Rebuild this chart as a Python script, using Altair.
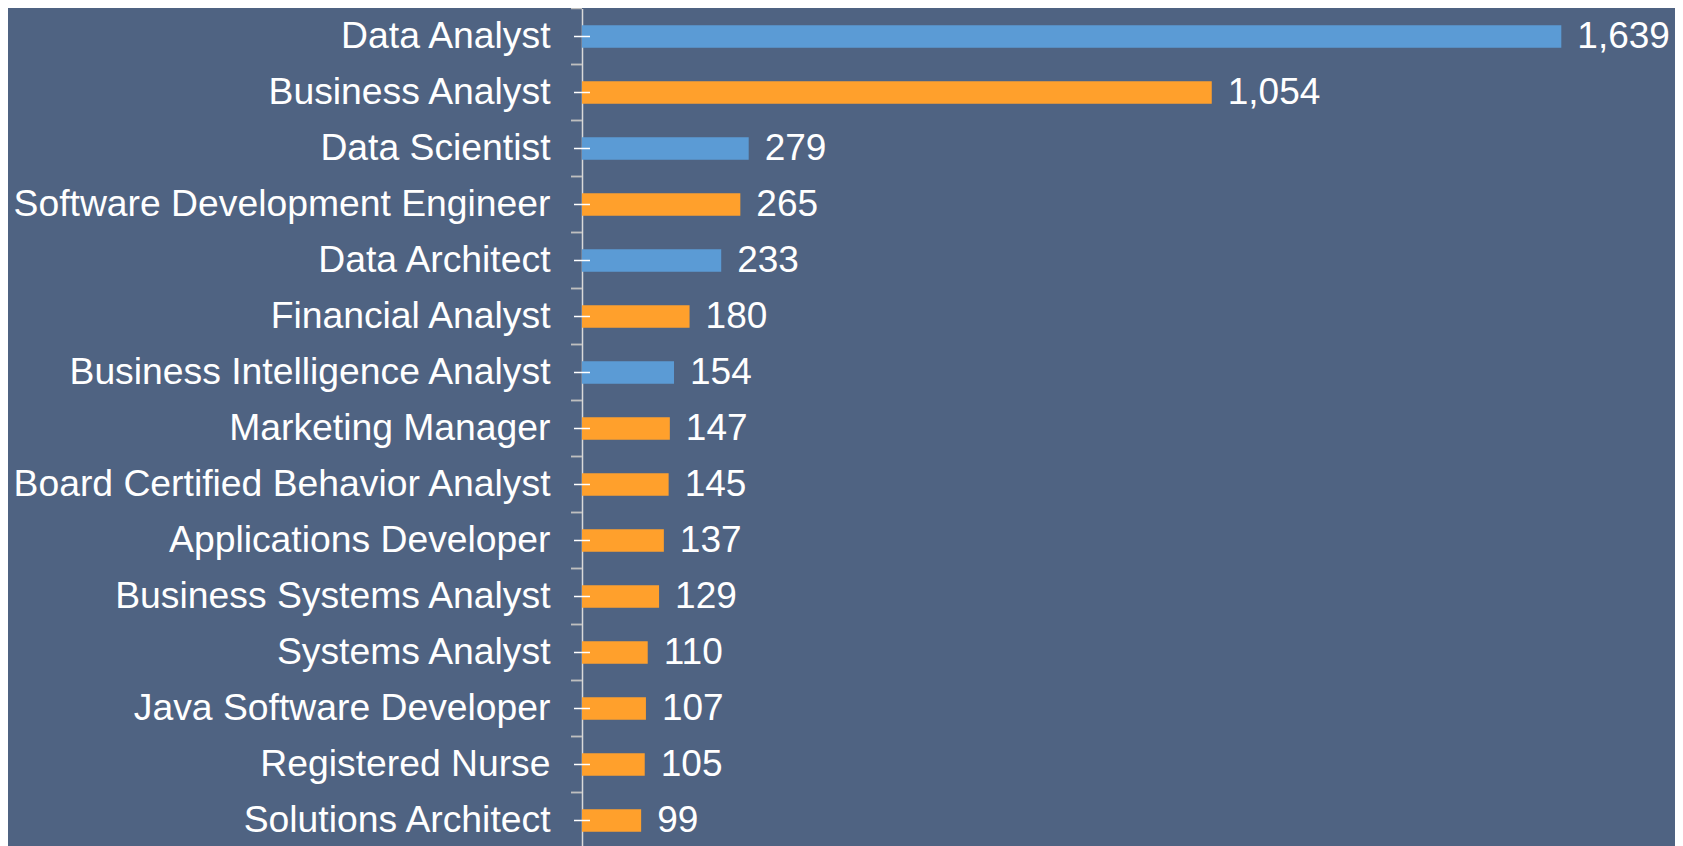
import altair as alt
import pandas as pd

roles = [
    "Data Analyst", "Business Analyst", "Data Scientist", "Software Development Engineer",
    "Data Architect", "Financial Analyst", "Business Intelligence Analyst", "Marketing Manager",
    "Board Certified Behavior Analyst", "Applications Developer", "Business Systems Analyst",
    "Systems Analyst", "Java Software Developer", "Registered Nurse", "Solutions Architect",
]
counts = [1639, 1054, 279, 265, 233, 180, 154, 147, 145, 137, 129, 110, 107, 105, 99]
groups = ["data", "other", "data", "other", "data", "other", "data", "other",
          "other", "other", "other", "other", "other", "other", "other"]

BG = "#4F6382"
FONT = "Liberation Sans"
STEP = 56  # pixel height of one category row (840 / 15)
df = pd.DataFrame({"role": roles, "count": counts, "group": groups})

y_scale = alt.Scale(paddingInner=0.6, paddingOuter=0.3, range=[0, 840])
y_enc = alt.Y("role:N", sort=roles, scale=y_scale,
              axis=alt.Axis(title=None, domainColor="#D9D9D9", domainWidth=1.5,
                            ticks=False, tickSize=0, labelPadding=32,
                            labelFont=FONT, labelFontSize=37.3,
                            labelColor="#FFFFFF", labelLimit=0, grid=False))
y_plain = alt.Y("role:N", sort=roles)

x_enc = alt.X("count:Q", scale=alt.Scale(domain=[0, 1800]), axis=None)

bars = alt.Chart(df).mark_bar().encode(
    x=x_enc, y=y_enc,
    color=alt.Color("group:N", scale=alt.Scale(domain=["data", "other"],
                                               range=["#5B9BD5", "#FFA02C"]), legend=None),
)

text = alt.Chart(df).mark_text(align="left", baseline="middle", dx=16,
                               font=FONT, fontSize=37, color="#FFFFFF").encode(
    x=x_enc, y=y_plain, text=alt.Text("count:Q", format=",")
)

# short ticks crossing the axis at each category centre
center_ticks = alt.Chart(df).mark_rule(color="#FFFFFF", strokeWidth=1.5).encode(
    y=y_plain, x=alt.value(-8), x2=alt.value(8)
)

# ticks on the category boundaries (left of the axis)
upper_ticks = alt.Chart(df).mark_rule(color="#BFBFBF", strokeWidth=1.5,
                                      yOffset=-STEP / 2).encode(
    y=y_plain, x=alt.value(-11), x2=alt.value(0)
)
lower_ticks = alt.Chart(df).mark_rule(color="#BFBFBF", strokeWidth=1.5,
                                      yOffset=STEP / 2).encode(
    y=y_plain, x=alt.value(-11), x2=alt.value(0)
)

chart = alt.layer(bars, upper_ticks, lower_ticks, center_ticks, text).properties(
    width=1075.5, height=837.5,
    background=BG,
    padding={"left": 574, "top": 0.5, "right": 17.5, "bottom": 0},
    autosize=alt.AutoSizeParams(type="none"),
).configure_view(stroke=None)

chart.save("out.html", embed_options={"renderer": "svg", "actions": False})
